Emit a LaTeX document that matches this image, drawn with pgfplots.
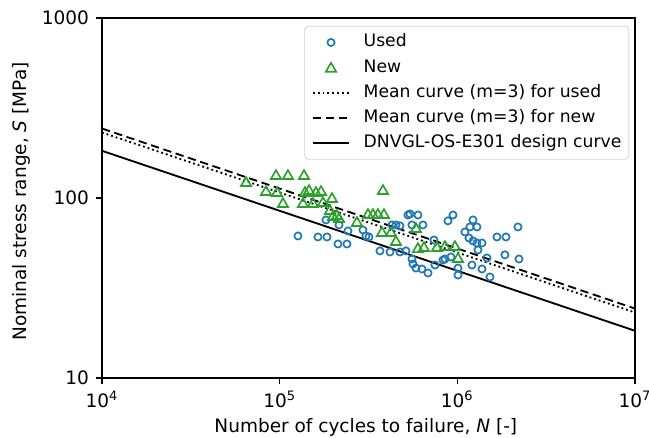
\documentclass[border=0pt]{standalone}
\usepackage{fontspec}
\setmainfont{DejaVu Sans}
\usepackage{pgfplots}
\pgfplotsset{compat=1.18}
\definecolor{cused}{HTML}{1F77B4}
\definecolor{cnew}{HTML}{2CA02C}
\pgfplotsset{
  legline/.style={legend image code/.code={\draw[##1] (0pt,0pt) -- (19.5pt,0pt);}},
  legmark/.style={legend image code/.code={\draw[##1] plot coordinates {(9.75pt,0pt)};}},
}
\begin{document}
\begin{tikzpicture}
\begin{axis}[
  at={(0,0)}, anchor=south west, scale only axis,
  width=288.1pt, height=194.6pt,
  xmode=log, ymode=log,
  xmin=1e4, xmax=1e7, ymin=10, ymax=1000,
  xtick={1e4,1e5,1e6,1e7},
  xticklabels={10\textsuperscript{4},10\textsuperscript{5},10\textsuperscript{6},10\textsuperscript{7}},
  ytick={10,100,1000}, yticklabels={10,100,1000},
  xminorticks=false, yminorticks=false,
  tick align=outside, xtick pos=left, ytick pos=left,
  major tick length=3.5pt,
  every tick/.style={black, line width=0.8pt},
  axis line style={line width=0.8pt},
  tick label style={font=\fontsize{10}{12}\selectfont},
  xlabel={Number of cycles to failure, \textit{N} [-]},
  ylabel={Nominal stress range, \textit{S} [MPa]},
  label style={font=\fontsize{10}{12}\selectfont},
  x label style={at={(axis description cs:0.495,-0.136)}, anchor=center},
  y label style={at={(axis description cs:-0.152,0.49)}, anchor=center},
  legend cell align=left,
  legend style={at={(1,1)}, anchor=north east, xshift=-3.2pt, yshift=-4.3pt,
    draw=black!18, rounded corners=2pt, fill=white,
    font=\fontsize{9.3}{11}\selectfont,
    inner xsep=3.9pt, inner ysep=1.95pt,
    nodes={inner xsep=0pt, inner ysep=2.2pt, text height=7pt, text depth=2.2pt},
    row sep=0pt,
    /tikz/every odd column/.append style={column sep=7.4pt}},
]
\addplot[only marks, mark=o, mark size=1.95pt, color=cused, mark options={line width=0.9pt}, legmark]
coordinates {
(1.268e5,61.5) (1.643e5,60.7) (1.847e5,60.7) (1.823e5,75.5) (2.158e5,70.8)
(2.130e5,55.5) (2.393e5,55.5) (2.424e5,65.6) (2.944e5,66.4) (3.061e5,61.5)
(3.182e5,60.7) (3.670e5,50.8) (4.288e5,70.8) (4.516e5,70.8) (4.756e5,70.0)
(4.178e5,50.1) (4.756e5,50.1) (5.140e5,50.8) (5.276e5,80.4) (5.414e5,81.5)
(6.005e5,80.4) (5.557e5,70.8) (6.410e5,70.8) (5.557e5,45.8) (5.630e5,43.0)
(5.852e5,40.8) (6.326e5,40.3) (6.838e5,38.3) (7.486e5,42.4) (7.389e5,58.4)
(9.454e5,80.4) (8.859e5,74.6) (8.304e5,45.2) (8.522e5,45.8) (9.210e5,47.0)
(1.009e6,40.8) (1.009e6,37.3) (1.104e6,64.7) (1.178e6,69.0) (1.225e6,75.5)
(1.290e6,69.0) (1.163e6,59.9) (1.225e6,57.7) (1.290e6,56.2) (1.377e6,56.2)
(1.307e6,51.4) (1.209e6,42.4) (1.377e6,40.3) (1.469e6,46.4) (1.527e6,36.4)
(1.672e6,60.7) (1.879e6,60.7) (1.854e6,48.3) (2.195e6,69.0) (2.224e6,45.8)
};
\addlegendentry{Used}
\addplot[only marks, mark=triangle, mark size=3.2pt, color=cnew, mark options={line width=0.9pt, yshift=-0.6pt}, legmark]
coordinates {
(6.47e4,122.7) (8.38e4,109.4) (9.54e4,134.2) (1.114e5,134.2) (1.371e5,134.2)
(9.66e4,108.0) (1.044e5,93.8) (1.353e5,93.8) (1.389e5,108.0) (1.463e5,110.8)
(1.601e5,108.0) (1.709e5,109.4) (1.540e5,93.8) (1.753e5,95.0) (1.970e5,100)
(1.920e5,85.8) (1.996e5,79.4) (2.158e5,77.4) (2.102e5,80.4) (2.724e5,73.6)
(3.142e5,81.5) (3.352e5,81.5) (3.577e5,81.5) (3.866e5,81.5) (3.816e5,110.8)
(3.767e5,64.7) (4.232e5,64.7) (4.516e5,57.7) (5.852e5,68.1) (6.005e5,52.7)
(6.491e5,53.4) (7.683e5,53.4) (8.522e5,54.1) (9.701e5,54.1) (1.009e6,46.4)
};
\addlegendentry{New}
\addplot[black, line width=1pt, dash pattern=on 1pt off 1.6pt, legline]
coordinates {(1e4,231) (1e7,23.1)};
\addlegendentry{Mean curve (m=3) for used}
\addplot[black, line width=1pt, dash pattern=on 4.5pt off 2.5pt, legline]
coordinates {(1e4,243) (1e7,24.3)};
\addlegendentry{Mean curve (m=3) for new}
\addplot[black, line width=1pt, legline]
coordinates {(1e4,182.8) (1e7,18.28)};
\addlegendentry{DNVGL-OS-E301 design curve}
\end{axis}
\pgfresetboundingbox
\path[use as bounding box] (-55.13pt,-32.43pt) rectangle (295.7pt,204.3pt);
\end{tikzpicture}
\end{document}
